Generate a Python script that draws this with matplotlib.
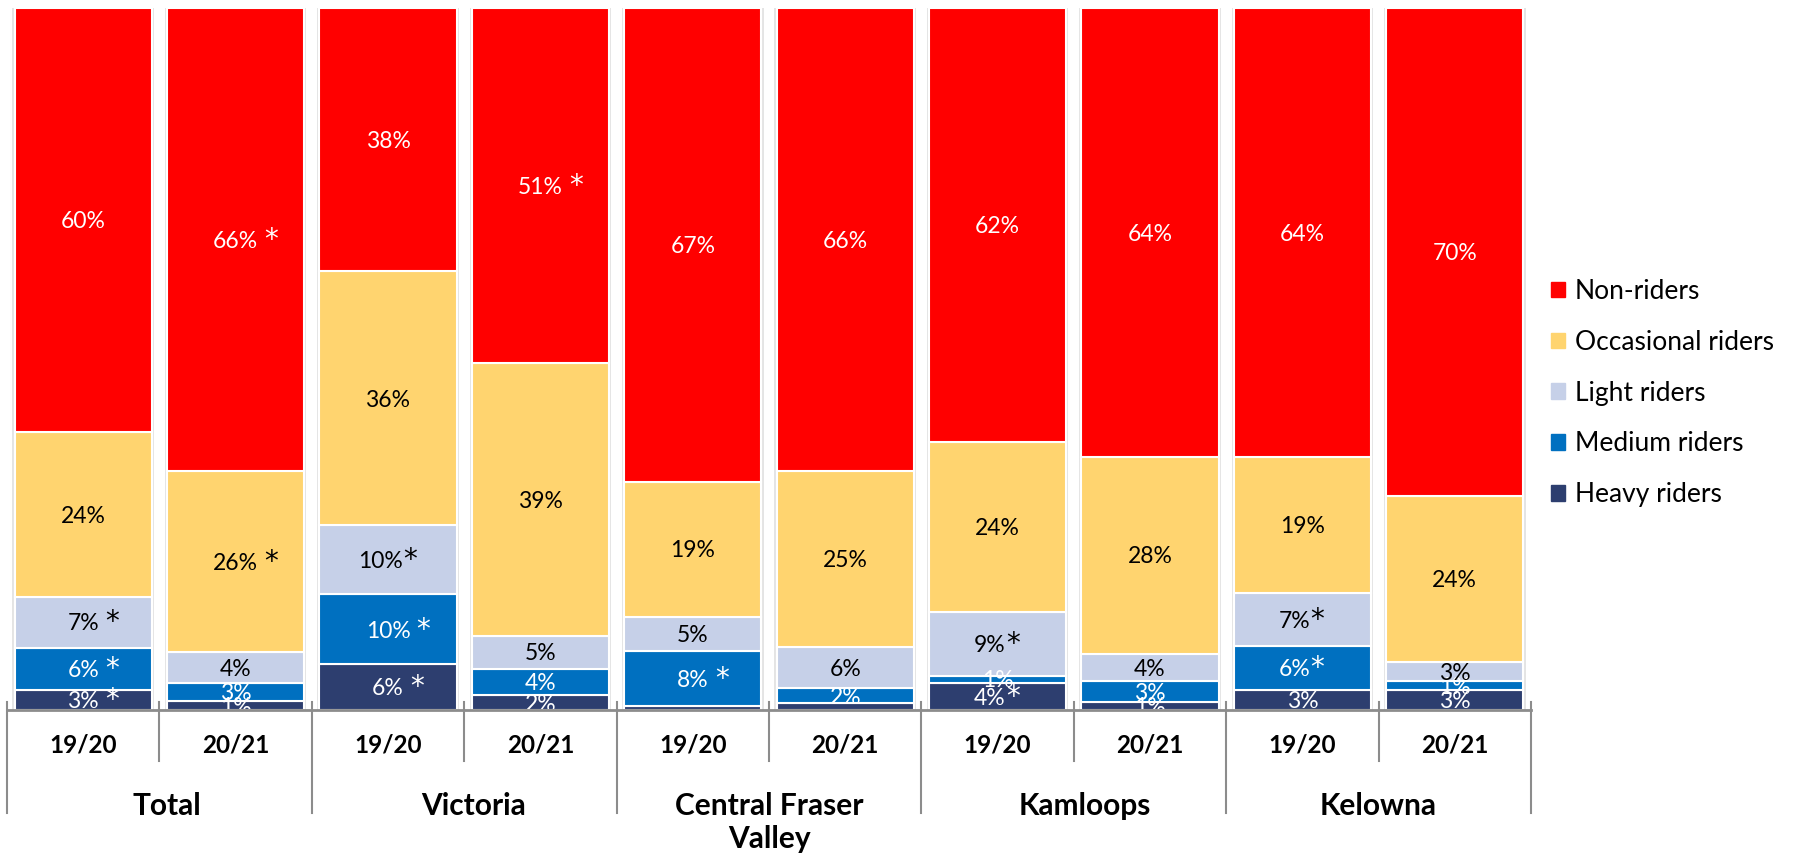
import numpy as np
import matplotlib
matplotlib.use('Agg')
import matplotlib.pyplot as plt
from matplotlib.patches import Patch

plt.rcParams['font.family'] = ['Lato', 'DejaVu Sans']

# data (percent of respondents)
groups = ['Total', 'Victoria', 'Central Fraser\nValley', 'Kamloops', 'Kelowna']
periods = ['19/20', '20/21']
series = ['Non-riders', 'Occasional riders', 'Light riders', 'Medium riders', 'Heavy riders']

heavy = [2.9, 1.3, 6.5, 2.1, 0.6, 1.0, 3.9, 1.1, 2.8, 2.9]
medium = [6.0, 2.6, 10.0, 3.8, 7.8, 2.1, 1.0, 3.0, 6.3, 1.2]
light = [7.2, 4.3, 9.8, 4.7, 4.9, 5.9, 9.1, 3.9, 7.5, 2.8]
occasional = [23.5, 25.9, 36.2, 38.8, 19.2, 25.1, 24.2, 28.1, 19.5, 23.6]
nonriders = [60.4, 65.9, 37.5, 50.6, 67.5, 65.9, 61.8, 63.9, 63.9, 69.5]

heavy_lbl = ['3% *', '1%', '6% *', '2%', '', '', '4%*', '1%', '3%', '3%']
medium_lbl = ['6% *', '3%', '10% *', '4%', '8% *', '2%', '1%', '3%', '6%*', '1%']
light_lbl = ['7% *', '4%', '10%*', '5%', '5%', '6%', '9%*', '4%', '7%*', '3%']
occasional_lbl = ['24%', '26% *', '36%', '39%', '19%', '25%', '24%', '28%', '19%', '24%']
nonriders_lbl = ['60%', '66% *', '38%', '51% *', '67%', '66%', '62%', '64%', '64%', '70%']

colors = {'Heavy riders': '#2d3e6f', 'Medium riders': '#0070c0', 'Light riders': '#c6d0e8',
          'Occasional riders': '#ffd46f', 'Non-riders': '#ff0000'}
text_colors = {'Heavy riders': 'white', 'Medium riders': 'white', 'Light riders': 'black',
               'Occasional riders': 'black', 'Non-riders': 'white'}

fig = plt.figure(figsize=(17.95, 8.58), dpi=100)
ax = fig.add_axes([7/1795, 1 - 710/858, (1531-7)/1795, 702/858])

x = np.arange(len(heavy))
width = 0.9
fs = 16.5
cap = 0.72 * fs


def put_label(xi, y, t, color):
    # percent part, asterisk drawn as a separate raised glyph
    star = t.endswith('*')
    spaced = t.endswith(' *')
    pct = t.rstrip(' *')
    dx = 0 if (spaced or not star) else -5.5
    base = ax.annotate(pct, xy=(xi, y), xytext=(dx, -cap/2), textcoords='offset points',
                       ha='center', va='baseline', fontsize=fs, color=color,
                       zorder=3, clip_on=True)
    if star:
        gap = 4.5 if spaced else 0.0
        ax.annotate('*', xy=(1, y), xycoords=(base, 'data'), xytext=(gap, -cap/2),
                    textcoords='offset points', ha='left', va='baseline', fontsize=20,
                    family='DejaVu Sans', color=color, zorder=3, clip_on=True)


# soft grey shadow behind each bar
ax.bar(x, [100]*len(x), width=width + 0.03, color='#e4e4e4', zorder=1)

stack = [('Heavy riders', heavy, heavy_lbl), ('Medium riders', medium, medium_lbl),
         ('Light riders', light, light_lbl), ('Occasional riders', occasional, occasional_lbl),
         ('Non-riders', nonriders, nonriders_lbl)]
bottom = np.zeros(len(x))
for name, vals, lbls in stack:
    vals = np.array(vals)
    ax.bar(x, vals, width=width, bottom=bottom, color=colors[name],
           edgecolor='white', linewidth=1.5, zorder=2)
    for xi, b, v, t in zip(x, bottom, vals, lbls):
        if t:
            put_label(xi, b + v/2, t, text_colors[name])
    bottom = bottom + vals

ax.set_xlim(-0.5, len(x) - 0.5)
ax.set_ylim(0, 100)
for s in ['top', 'right', 'left']:
    ax.spines[s].set_visible(False)
ax.spines['bottom'].set_color('#8c8c8c')
ax.spines['bottom'].set_linewidth(2)
ax.spines['bottom'].set_zorder(4)
ax.set_yticks([])
ax.set_xticks([])

trans = ax.get_xaxis_transform()
# separators
for i in range(len(x) + 1):
    xb = i - 0.5
    if i % 2 == 0:
        ax.plot([xb, xb], [0.0114, -0.147], color='#8c8c8c', lw=1.5, transform=trans, clip_on=False)
    else:
        ax.plot([xb, xb], [0.0114, -0.0726], color='#8c8c8c', lw=1.5, transform=trans, clip_on=False)

for xi in x:
    ax.text(xi, -0.05, periods[xi % 2], ha='center', va='center', fontsize=17.5,
            fontweight='bold', transform=trans)
# group labels sit a little right of centre in the original
shift = [0.05, 0.06, 0.0, 0.07, 0.0]
for gi, g in enumerate(groups):
    ax.text(2*gi + 0.5 + shift[gi], -0.117, g, ha='center', va='top', fontsize=21.5,
            fontweight='bold', transform=trans, linespacing=1.2)

handles = [Patch(color=colors[s]) for s in series]
fig.legend(handles, series, loc='center left', bbox_to_anchor=(1551/1795, 1 - 393/858),
           frameon=False, fontsize=19, handlelength=0.53, handleheight=0.53,
           handletextpad=0.38, labelspacing=0.98, borderpad=0, borderaxespad=0)

fig.savefig('out.png', dpi=100)
